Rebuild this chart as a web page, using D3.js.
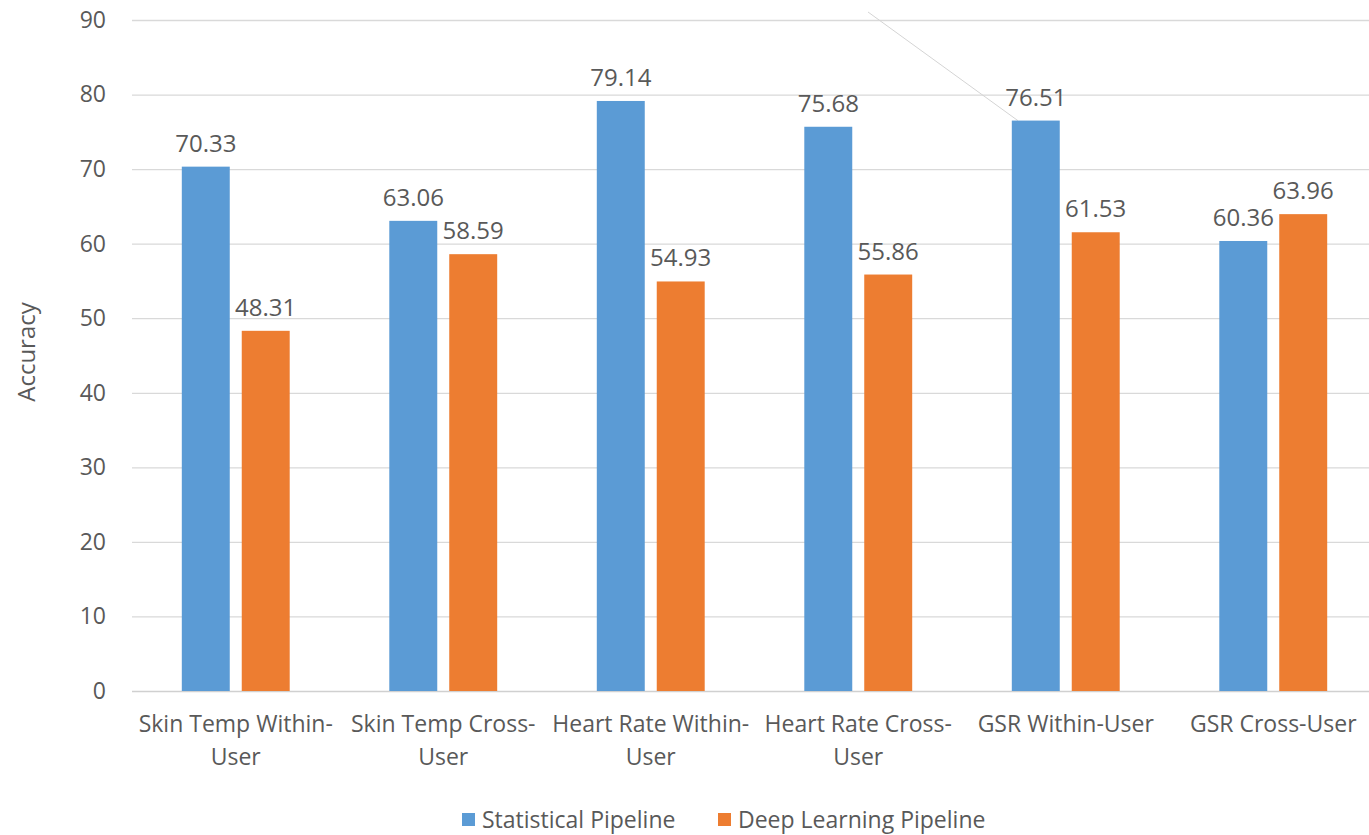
<!DOCTYPE html>
<html>
<head>
<meta charset="utf-8">
<script src="https://cdn.jsdelivr.net/npm/d3@7"></script>
<style>
  html, body { margin: 0; padding: 0; background: #fff; }
  svg { display: block; }
  text { font-family: "Open Sans", "Noto Sans", sans-serif; fill: #595959; }
</style>
</head>
<body>
<svg id="chart" width="1369" height="835"></svg>
<script>
// Categories (two-line axis labels) and accuracy per pipeline
const categories = [
  ["Skin Temp Within-", "User"],
  ["Skin Temp Cross-", "User"],
  ["Heart Rate Within-", "User"],
  ["Heart Rate Cross-", "User"],
  ["GSR Within-User"],
  ["GSR Cross-User"]
];
const seriesNames = ["Statistical Pipeline", "Deep Learning Pipeline"];
const statistical = [70.33, 63.06, 79.14, 75.68, 76.51, 60.36];
const deepLearning = [48.31, 58.59, 54.93, 55.86, 61.53, 63.96];
const yTicks = [0, 10, 20, 30, 40, 50, 60, 70, 80, 90];
const colors = ["#5B9BD5", "#ED7D31"];

const svg = d3.select("#chart");
const plotLeft = 132, plotRight = 1377, plotTop = 20, plotBottom = 691;

const catKeys = categories.map((c, i) => i);
const x0 = d3.scaleBand().domain(catKeys).range([plotLeft, plotRight])
  .paddingInner(0.48).paddingOuter(0.24);
const x1 = d3.scaleBand().domain([0, 1]).range([0, x0.bandwidth()]).paddingInner(0.2);
const y = d3.scaleLinear().domain([0, 90]).range([plotBottom, plotTop]);

// Gridlines and value axis labels
const yAxis = d3.axisLeft(y).tickValues(yTicks).tickSize(-(plotRight - plotLeft)).tickPadding(26);
const gy = svg.append("g").attr("transform", `translate(${plotLeft},0)`).call(yAxis);
gy.select(".domain").remove();
gy.selectAll(".tick line").attr("stroke", "#d9d9d9").attr("stroke-width", 1.3);
gy.selectAll(".tick text").style("font-size", "23px").attr("fill", "#595959");
gy.selectAll(".tick").filter(d => d === 0).select("line").attr("stroke", "#d0d0d0");

// Leader line across the top-right of the plot
svg.append("line")
  .attr("x1", 868).attr("y1", 12)
  .attr("x2", x0(4) + x1(0) + 6).attr("y2", y(statistical[4]))
  .attr("stroke", "#d4d4d4").attr("stroke-width", 1);

// Bars
const rows = catKeys.map(i => [statistical[i], deepLearning[i]]);
const groups = svg.append("g").selectAll("g").data(rows).join("g")
  .attr("transform", (d, i) => `translate(${x0(i)},0)`);
groups.selectAll("rect").data(d => d.map((v, s) => ({ v, s }))).join("rect")
  .attr("x", d => x1(d.s))
  .attr("width", x1.bandwidth())
  .attr("y", d => y(d.v))
  .attr("height", d => y(0) - y(d.v))
  .attr("fill", d => colors[d.s]);

// Value labels
groups.selectAll("text.val").data(d => d.map((v, s) => ({ v, s }))).join("text")
  .attr("class", "val")
  .attr("x", d => x1(d.s) + x1.bandwidth() / 2)
  .attr("y", d => y(d.v) - 15)
  .attr("text-anchor", "middle")
  .style("font-size", "24px")
  .text(d => d.v.toFixed(2));

// Category labels
const cat = svg.append("g").selectAll("text").data(categories).join("text")
  .attr("text-anchor", "middle")
  .attr("x", (d, i) => x0(i) + x0.bandwidth() / 2)
  .attr("y", 732)
  .style("font-size", "23px");
cat.selectAll("tspan").data(d => d).join("tspan")
  .attr("x", function () { return this.parentNode.getAttribute("x"); })
  .attr("dy", (d, j) => j === 0 ? 0 : 33)
  .text(d => d);

// Axis title
svg.append("text")
  .attr("transform", "translate(35,352) rotate(-90)")
  .attr("text-anchor", "middle")
  .style("font-size", "24px")
  .text("Accuracy");

// Legend
const legendX = [462, 718];
const lg = svg.append("g").selectAll("g").data(seriesNames).join("g")
  .attr("transform", (d, i) => `translate(${legendX[i]},0)`);
lg.append("rect").attr("x", 0).attr("y", 813).attr("width", 13).attr("height", 13)
  .attr("fill", (d, i) => colors[i]);
lg.append("text").attr("x", 20).attr("y", 828).style("font-size", "23px").text(d => d);
</script>
</body>
</html>
